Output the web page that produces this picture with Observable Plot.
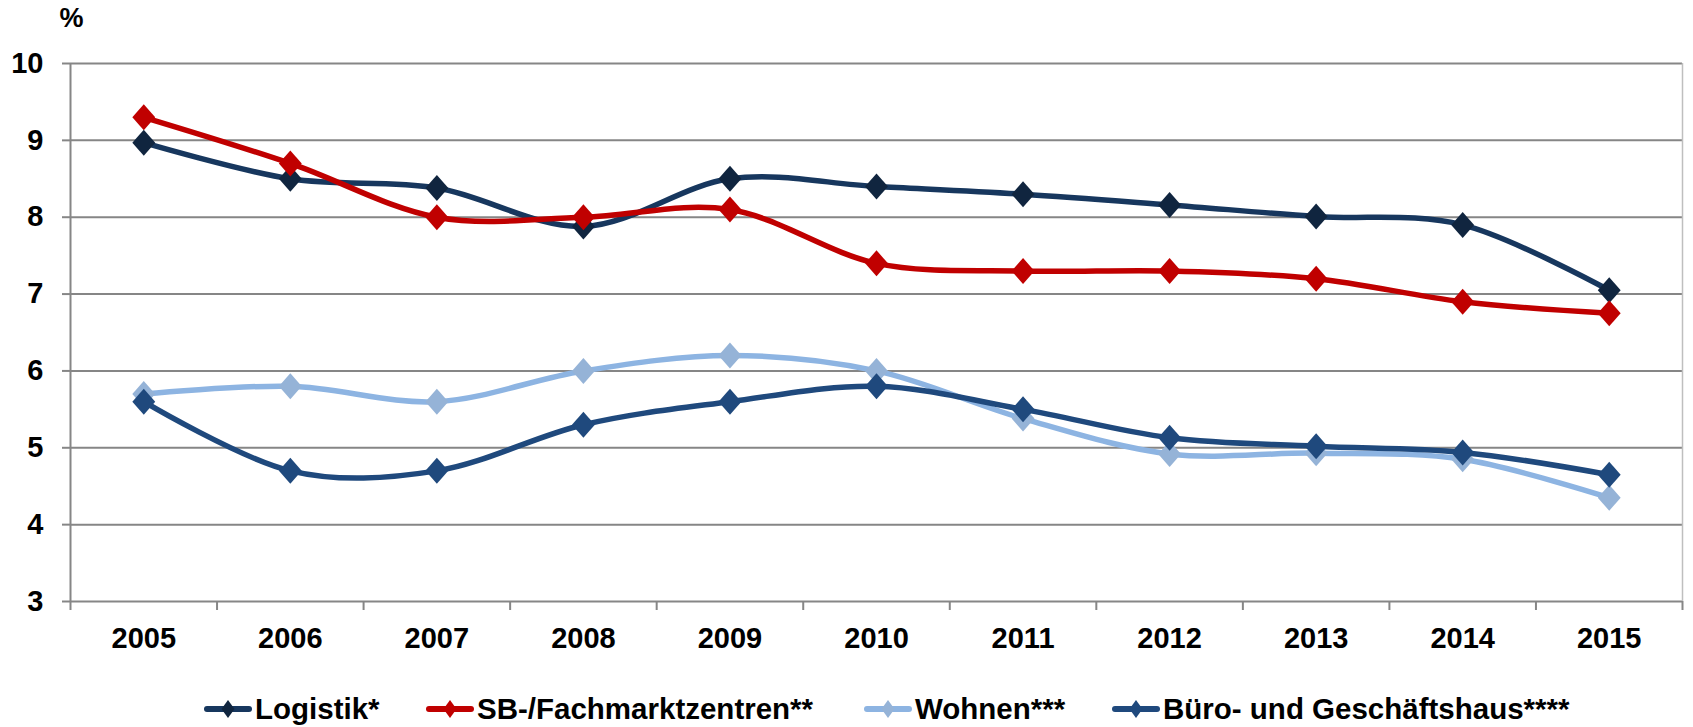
<!DOCTYPE html>
<html>
<head>
<meta charset="utf-8">
<script src="https://cdn.jsdelivr.net/npm/d3@7"></script>
<script src="https://cdn.jsdelivr.net/npm/@observablehq/plot@0.6"></script>
<style>
  html, body { margin: 0; padding: 0; background: #fff; }
  body { width: 1693px; height: 727px; overflow: hidden; font-family: "Liberation Sans", Arial, sans-serif; }
  #legend { position: relative; height: 37px; width: 1693px; font-weight: bold; font-size: 29.5px; color: #000; }
  .item { position: absolute; top: 0; height: 37px; display: flex; align-items: center; white-space: nowrap; }
  .item svg { margin-right: 3px; }
</style>
</head>
<body>
<div id="chart"></div>
<div id="legend"></div>
<script>
// ---- data ----
const years = [2005, 2006, 2007, 2008, 2009, 2010, 2011, 2012, 2013, 2014, 2015];
const seriesNames = ["Logistik*", "SB-/Fachmarktzentren**", "Wohnen***", "Büro- und Geschäftshaus****"];
const logistik = [8.97, 8.5, 8.38, 7.88, 8.5, 8.4, 8.3, 8.16, 8.01, 7.9, 7.05];
const sbFachmarkt = [9.3, 8.7, 8.0, 8.0, 8.1, 7.4, 7.3, 7.3, 7.2, 6.9, 6.75];
const wohnen = [5.7, 5.8, 5.6, 6.0, 6.2, 6.0, 5.38, 4.92, 4.93, 4.85, 4.35];
const buero = [5.6, 4.7, 4.7, 5.3, 5.6, 5.8, 5.5, 5.13, 5.02, 4.94, 4.65];
const yTicks = [3, 4, 5, 6, 7, 8, 9, 10];
const yUnit = "%";

const lineColors = ["#17375E", "#C00000", "#8DB4E2", "#1F497D"];
const markColors = ["#10253F", "#C00000", "#95B3D7", "#1F497D"];
const valuesList = [logistik, sbFachmarkt, wohnen, buero];

const series = seriesNames.map((name, i) =>
  years.map((year, j) => ({series: name, year, value: valuesList[i][j]}))
);
const boundaries = [...years.map(y => y - 0.5), years[years.length - 1] + 0.5];

const diamond = {
  draw(ctx, size) {
    const r = Math.sqrt(size / Math.PI);
    const h = r, w = r * 0.88;
    ctx.moveTo(0, -h); ctx.lineTo(w, 0); ctx.lineTo(0, h); ctx.lineTo(-w, 0); ctx.closePath();
  }
};

const seriesMarks = series.flatMap((data, i) => [
  Plot.line(data, {x: "year", y: "value", stroke: lineColors[i], strokeWidth: 5.5, curve: "cardinal"}),
  Plot.dot(data, {x: "year", y: "value", symbol: diamond, r: 13, fill: markColors[i], stroke: "none"})
]);

const chart = Plot.plot({
  width: 1693,
  height: 690,
  marginLeft: 70,
  marginRight: 11,
  marginTop: 63,
  marginBottom: 89,
  x: {type: "linear", domain: [years[0] - 0.5, years[years.length - 1] + 0.5]},
  y: {domain: [3, 10]},
  style: {fontFamily: "'Liberation Sans', Arial, sans-serif", fontWeight: "bold", fontSize: "29px", color: "#000", background: "#fff"},
  marks: [
    Plot.gridY(yTicks, {stroke: "#868686", strokeOpacity: 1, strokeWidth: 2}),
    Plot.ruleX([years[years.length - 1] + 0.5], {stroke: "#BFBFBF", strokeWidth: 1.5}),
    Plot.axisY(yTicks, {tickSize: 8, tickPadding: 19, stroke: "#868686", strokeWidth: 2, fill: "#000", tickFormat: d => String(d), label: null, fontSize: 29, fontWeight: "bold"}),
    Plot.ruleX([years[0] - 0.5], {stroke: "#868686", strokeWidth: 2}),
    Plot.axisX(boundaries, {tickSize: 9, tickFormat: () => "", stroke: "#868686", strokeWidth: 2, label: null}),
    Plot.axisX(years, {tickSize: 0, tickPadding: 26, tickFormat: d => String(d), fill: "#000", label: null, fontSize: 29, fontWeight: "bold"}),
    ...seriesMarks,
    Plot.text([yUnit], {frameAnchor: "top-left", lineAnchor: "top", textAnchor: "start", dx: -11, dy: -56, fontSize: 27, fontWeight: "bold", fill: "#000"})
  ]
});
document.getElementById("chart").appendChild(chart);

// ---- legend (HTML below the SVG) ----
const legendLefts = [204, 426, 864, 1112];
const legend = document.getElementById("legend");
seriesNames.forEach((name, i) => {
  const item = document.createElement("div");
  item.className = "item";
  item.style.left = legendLefts[i] + "px";
  item.innerHTML =
    `<svg width="48" height="30" viewBox="0 0 48 30">
       <line x1="3" y1="15" x2="45" y2="15" stroke="${lineColors[i]}" stroke-width="6" stroke-linecap="round"/>
       <path d="M24,6 L30.5,15 L24,24 L17.5,15 Z" fill="${markColors[i]}"/>
     </svg><span>${name}</span>`;
  legend.appendChild(item);
});
</script>
</body>
</html>
